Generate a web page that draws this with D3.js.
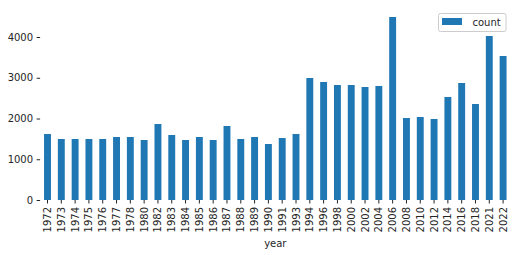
<!DOCTYPE html>
<html>
<head>
<meta charset="utf-8">
<script src="https://cdn.jsdelivr.net/npm/d3@7"></script>
<style>
  body { margin: 0; background: #fff; }
  text { font-family: "DejaVu Sans", sans-serif; }
</style>
</head>
<body>
<svg id="chart" width="517" height="255"></svg>
<script>
var years = ["1972", "1973", "1974", "1975", "1976", "1977", "1978", "1980", "1982", "1983",
             "1984", "1985", "1986", "1987", "1988", "1989", "1990", "1991", "1993", "1994",
             "1996", "1998", "2000", "2002", "2004", "2006", "2008", "2010", "2012", "2014",
             "2016", "2018", "2021", "2022"];
var counts = [1620, 1497, 1497, 1497, 1497, 1546, 1546, 1472, 1865, 1595,
              1472, 1546, 1472, 1816, 1497, 1546, 1374, 1521, 1620, 2994,
              2896, 2822, 2822, 2773, 2798, 4491, 2012, 2037, 1988, 2528,
              2871, 2356, 4025, 3534];
var yTicks = [0, 1000, 2000, 3000, 4000];
var seriesName = "count";
var xLabel = "year";

var svg = d3.select("#chart"),
    margin = {top: 8, right: 7, bottom: 55, left: 40.6},
    width = +svg.attr("width") - margin.left - margin.right,
    height = +svg.attr("height") - margin.top - margin.bottom,
    g = svg.append("g").attr("transform", "translate(" + margin.left + "," + margin.top + ")");

var data = years.map(function(y, i) { return {year: y, count: counts[i]}; });

var x = d3.scaleBand()
    .domain(years)
    .range([0, width])
    .paddingInner(0.5)
    .paddingOuter(0.25);

var y = d3.scaleLinear()
    .domain([0, 4000 * (192 / 163)])
    .range([height, 0]);

g.selectAll(".bar")
  .data(data)
  .enter().append("rect")
    .attr("class", "bar")
    .attr("x", function(d) { return x(d.year); })
    .attr("y", function(d) { return y(d.count); })
    .attr("width", x.bandwidth())
    .attr("height", function(d) { return height - y(d.count); })
    .attr("fill", "#1f77b4");

var yAxis = g.append("g")
    .attr("transform", "translate(-0.5,0)")
    .call(d3.axisLeft(y).tickValues(yTicks).tickFormat(d3.format("d")).tickSize(3.5).tickPadding(3.5));
yAxis.select(".domain").remove();
yAxis.selectAll("line").attr("stroke", "#262626");
yAxis.selectAll("text").attr("fill", "#262626").style("font-size", "10px");

var xAxis = g.append("g")
    .attr("transform", "translate(0," + height + ")")
    .call(d3.axisBottom(x).tickSize(3.5).tickPadding(3.5));
xAxis.select(".domain").remove();
xAxis.selectAll("line").attr("stroke", "#262626");
xAxis.selectAll("text")
    .attr("fill", "#262626")
    .style("font-size", "10px")
    .attr("transform", "rotate(-90)")
    .attr("x", -7)
    .attr("y", 0)
    .attr("dy", "0.35em")
    .attr("text-anchor", "end");

g.append("text")
    .attr("x", width / 2)
    .attr("y", height + 47)
    .attr("text-anchor", "middle")
    .attr("fill", "#262626")
    .style("font-size", "10px")
    .text(xLabel);

var legend = svg.append("g").attr("transform", "translate(438.5,13.5)");
legend.append("rect")
    .attr("width", 67.5)
    .attr("height", 18)
    .attr("rx", 2)
    .attr("fill", "#fff")
    .attr("fill-opacity", 0.8)
    .attr("stroke", "#cccccc")
    .attr("stroke-width", 1);
legend.append("rect")
    .attr("x", 3.5)
    .attr("y", 4.5)
    .attr("width", 20)
    .attr("height", 7)
    .attr("fill", "#1f77b4");
legend.append("text")
    .attr("x", 34)
    .attr("y", 12.5)
    .attr("fill", "#262626")
    .style("font-size", "10px")
    .text(seriesName);
</script>
</body>
</html>
